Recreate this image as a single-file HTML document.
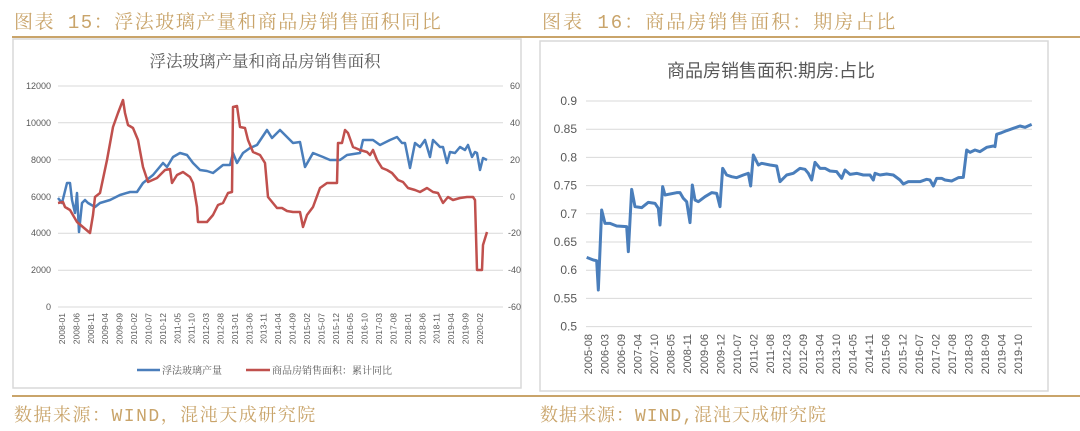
<!DOCTYPE html>
<html><head><meta charset="utf-8"><style>
body{margin:0;width:1080px;height:431px;background:#fff;overflow:hidden;position:relative;font-family:"Liberation Sans","Noto Sans CJK SC",sans-serif}
.h{position:absolute;color:#c9a46a;font-size:19px;letter-spacing:1.5px;font-family:"Liberation Mono","Noto Serif CJK SC",serif;white-space:nowrap}
.gl{position:absolute;background:#c9a46a;height:2px}
</style></head><body>
<div class="h" style="left:14px;top:7px">图表 15：浮法玻璃产量和商品房销售面积同比</div>
<div class="h" style="left:542px;top:7px;letter-spacing:2px">图表 16：商品房销售面积：期房占比</div>
<div class="gl" style="left:12px;top:36px;width:1068px"></div>
<div class="gl" style="left:12px;top:395px;width:1068px;height:1.5px"></div>
<div class="h" style="left:14px;top:401px;font-size:18px">数据来源：WIND，混沌天成研究院</div>
<div class="h" style="left:540px;top:401px;font-size:18px;letter-spacing:1px">数据来源：WIND,混沌天成研究院</div>
<svg width="1080" height="431" style="position:absolute;left:0;top:0" font-family="Liberation Sans, Noto Sans CJK SC, sans-serif">
<rect x="13" y="39" width="508" height="349" fill="none" stroke="#d9d9d9" stroke-width="1.5"/>
<text x="265" y="67" text-anchor="middle" font-size="16.5" fill="#595959" font-family="Noto Serif CJK SC, serif">浮法玻璃产量和商品房销售面积</text>
<g stroke="#d9d9d9" stroke-width="1">
<line x1="58" x2="503" y1="86" y2="86"/><line x1="58" x2="503" y1="122.8" y2="122.8"/><line x1="58" x2="503" y1="159.7" y2="159.7"/><line x1="58" x2="503" y1="196.5" y2="196.5"/><line x1="58" x2="503" y1="233.3" y2="233.3"/><line x1="58" x2="503" y1="270.2" y2="270.2"/><line x1="58" x2="503" y1="307" y2="307"/>
</g>
<g font-size="9" fill="#595959" text-anchor="end">
<text x="51" y="89">12000</text><text x="51" y="126">10000</text><text x="51" y="163">8000</text><text x="51" y="200">6000</text><text x="51" y="236">4000</text><text x="51" y="273">2000</text><text x="51" y="310">0</text>
</g>
<g font-size="9" fill="#595959">
<text x="510" y="89">60</text><text x="510" y="126">40</text><text x="510" y="163">20</text><text x="510" y="200">0</text><text x="508" y="236">-20</text><text x="508" y="273">-40</text><text x="508" y="310">-60</text>
</g>
<g font-size="8.5" fill="#595959" text-anchor="end" id="lx"></g>
<polyline fill="none" stroke="#4a7ebb" stroke-width="2.5" stroke-linejoin="round" points="58,198 62,203 67,183 70,183 72,200 75,213 77,193 79,232 82,203 85,200 88,203 95,207 100,203 110,200 120,195 130,192 137,192 143,183 153,175 163,163 167,167 173,157 180,153 187,155 193,163 200,170 207,171 213,173 223,165 230,165 233,153 237,163 243,153 250,148 257,145 267,130 272,138 280,130 287,137 293,143 300,142 305,167 313,153 323,157 330,160 340,160 347,155 360,153 363,140 373,140 380,145 390,140 397,137 402,143 405,143 410,168 415,143 420,147 425,140 430,157 433,140 440,147 443,147 447,163 450,152 455,153 460,147 465,150 468,145 472,157 475,152 477,153 480,170 483,158 487,160"/>
<polyline fill="none" stroke="#c0504d" stroke-width="2.5" stroke-linejoin="round" points="58,203 63,202 65,207 70,210 77,222 90,233 93,215 95,197 100,193 107,160 113,127 118,113 123,100 125,113 128,125 133,128 138,140 143,167 148,182 157,178 162,173 165,170 170,169 172,183 177,175 183,172 190,177 193,183 197,207 198,222 207,222 213,215 218,205 223,203 228,193 232,192 233,107 237,106 240,127 245,128 248,140 253,152 260,155 265,163 268,197 277,208 282,208 287,211 293,212 300,212 303,227 307,215 313,207 320,188 327,183 333,183 337,183 338,143 342,143 345,130 348,133 353,147 360,150 367,152 370,155 373,150 377,160 382,168 387,170 392,173 398,180 403,182 408,188 415,190 420,192 427,188 433,192 438,193 443,203 448,197 453,200 460,198 467,197 473,197 475,200 477,270 482,270 483,245 487,232"/>
<line x1="137" x2="160" y1="370" y2="370" stroke="#4a7ebb" stroke-width="2.5"/>
<text x="162" y="374" font-size="10" fill="#595959" font-family="Noto Serif CJK SC, serif">浮法玻璃产量</text>
<line x1="246" x2="270" y1="370" y2="370" stroke="#c0504d" stroke-width="2.5"/>
<text x="272" y="374" font-size="10" fill="#595959" font-family="Noto Serif CJK SC, serif">商品房销售面积：累计同比</text>

<rect x="540" y="41" width="508" height="350" fill="none" stroke="#d9d9d9" stroke-width="1.5"/>
<text x="771" y="77" text-anchor="middle" font-size="18" fill="#595959">商品房销售面积:期房:占比</text>
<g stroke="#d9d9d9" stroke-width="1" id="rg"></g>
<g font-size="12" fill="#595959" text-anchor="end" id="ry"></g>
<g font-size="11" fill="#595959" text-anchor="end" id="rx"></g>
<g transform="translate(540,40) scale(0.33333)">
<polyline fill="none" stroke="#4a7ebb" stroke-width="9" stroke-linejoin="round" points="140,652 160,660 170,662 175,750 185,510 195,550 210,550 230,558 260,560 265,635 275,448 285,500 305,503 325,487 345,490 355,505 360,555 368,440 375,465 410,458 420,458 430,475 440,485 450,548 457,435 465,480 475,485 495,470 515,458 530,460 540,500 548,385 560,405 575,410 590,413 610,405 625,400 632,438 640,345 655,375 665,370 690,375 710,378 720,425 740,405 760,400 780,385 795,388 805,400 815,420 825,367 840,385 855,385 870,393 890,395 905,415 915,390 930,403 950,400 970,405 990,405 1000,420 1005,400 1020,405 1040,402 1060,405 1080,420 1090,432 1105,425 1120,425 1140,425 1160,418 1170,420 1180,438 1190,415 1205,415 1215,420 1235,423 1255,413 1270,412 1280,330 1290,337 1305,330 1320,335 1340,322 1360,318 1365,320 1370,283 1385,278 1400,272 1420,265 1440,258 1455,262 1475,253"/>
</g>
</svg>
<script>
var ns="http://www.w3.org/2000/svg";
function t(g,x,y,s,rot){var e=document.createElementNS(ns,"text");e.setAttribute("x",x);e.setAttribute("y",y);if(rot)e.setAttribute("transform","rotate(-90 "+x+" "+y+")");e.textContent=s;document.getElementById(g).appendChild(e);}
var m=0;for(var i=0;i<30;i++){var mo=m%12+1,yr=2008+Math.floor(m/12);t("lx",65+i*14.41,313,yr+"-"+(mo<10?"0":"")+mo,1);m+=5;}
var rl=["2005-08","2006-03","2006-09","2007-04","2007-10","2008-05","2008-11","2009-06","2009-12","2010-07","2011-02","2011-08","2012-03","2012-09","2013-04","2013-10","2014-05","2014-11","2015-06","2015-12","2016-07","2017-02","2017-08","2018-03","2018-09","2019-04","2019-10"];
for(var i=0;i<27;i++){t("rx",592+i*16.54,334,rl[i],1);}
var vals=["0.9","0.85","0.8","0.75","0.7","0.65","0.6","0.55","0.5"];
for(var i=0;i<9;i++){var y=101+i*28.2;var l=document.createElementNS(ns,"line");l.setAttribute("x1",586);l.setAttribute("x2",1032);l.setAttribute("y1",y);l.setAttribute("y2",y);document.getElementById("rg").appendChild(l);t("ry",577,y+4,vals[i]);}
</script>
</body></html>
